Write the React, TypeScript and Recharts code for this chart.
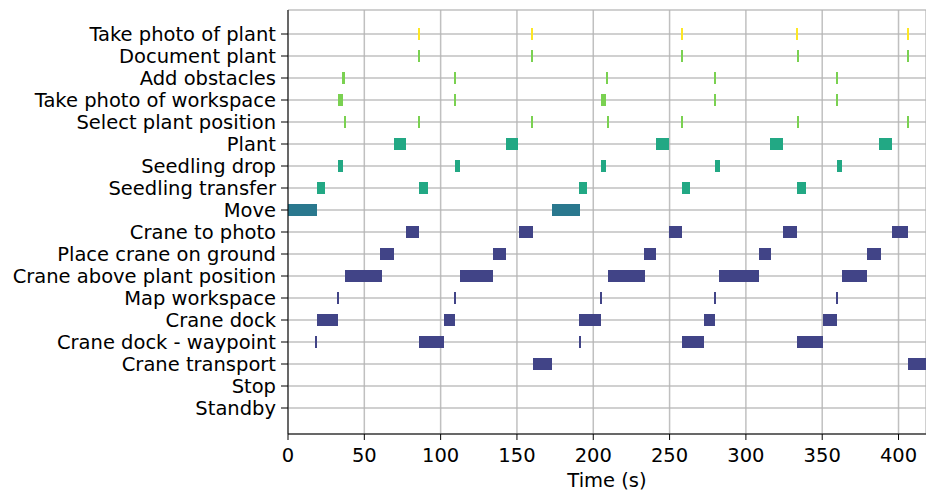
import { BarChart, Bar, XAxis, YAxis, CartesianGrid, Cell } from 'recharts';

const categories = [
  'Take photo of plant',
  'Document plant',
  'Add obstacles',
  'Take photo of workspace',
  'Select plant position',
  'Plant',
  'Seedling drop',
  'Seedling transfer',
  'Move',
  'Crane to photo',
  'Place crane on ground',
  'Crane above plant position',
  'Map workspace',
  'Crane dock',
  'Crane dock - waypoint',
  'Crane transport',
  'Stop',
  'Standby',
];

// [start, end] in seconds, one list per row
const takePhotoOfPlant = [[85.4, 86.3], [159.4, 160.3], [257.6, 258.5], [333.0, 333.9], [405.7, 406.6]];
const documentPlant = [[85.4, 86.3], [159.4, 160.3], [257.6, 258.5], [333.6, 334.5], [405.7, 406.6]];
const addObstacles = [[35.1, 37.1], [108.9, 109.8], [208.1, 209.5], [279.3, 280.2], [359.2, 360.1]];
const takePhotoOfWorkspace = [[32.5, 35.8], [108.9, 109.8], [204.8, 208.1], [279.3, 280.2], [359.2, 360.1]];
const selectPlantPosition = [[36.9, 37.8], [85.4, 86.3], [159.4, 160.3], [209.2, 210.1], [257.6, 258.5], [333.6, 334.5], [405.7, 406.6]];
const plant = [[69.2, 77.6], [142.5, 151.0], [241.4, 249.9], [316.1, 324.6], [387.5, 396.0]];
const seedlingDrop = [[32.5, 35.8], [109.1, 112.4], [204.8, 208.1], [279.5, 282.8], [359.4, 362.7]];
const seedlingTransfer = [[18.7, 24.0], [86.1, 91.4], [190.8, 196.1], [258.3, 263.5], [333.8, 339.1]];
const move = [[0, 18.7], [172.7, 191.5]];
const craneToPhoto = [[77.0, 86.1], [151.1, 160.3], [249.3, 258.4], [324.0, 333.8], [395.6, 406.1]];
const placeCraneOnGround = [[60.6, 69.2], [134.0, 143.1], [233.0, 241.4], [308.8, 316.5], [379.3, 388.3]];
const craneAbovePlantPosition = [[37.1, 61.3], [112.4, 134.0], [209.4, 233.6], [282.7, 308.8], [362.7, 379.1]];
const mapWorkspace = [[32.3, 33.2], [108.9, 109.8], [204.6, 205.5], [279.3, 280.2], [359.2, 360.1]];
const craneDock = [[18.7, 32.5], [101.9, 109.7], [190.8, 204.8], [272.3, 280.0], [350.8, 359.9]];
const craneDockWaypoint = [[17.9, 18.8], [86.1, 101.9], [190.8, 191.7], [258.4, 272.3], [333.8, 350.8]];
const craneTransport = [[160.3, 173.2], [406.1, 418]];
const stop: number[][] = [];
const standby: number[][] = [];

const segments = [
  takePhotoOfPlant, documentPlant, addObstacles, takePhotoOfWorkspace, selectPlantPosition,
  plant, seedlingDrop, seedlingTransfer, move, craneToPhoto, placeCraneOnGround,
  craneAbovePlantPosition, mapWorkspace, craneDock, craneDockWaypoint, craneTransport, stop, standby,
];

const rowColors = [
  '#fde725', '#7ad151', '#7ad151', '#7ad151', '#7ad151',
  '#22a884', '#22a884', '#22a884', '#2a788e', '#414487', '#414487',
  '#414487', '#414487', '#414487', '#414487', '#414487', '#414487', '#414487',
];

const xTicks = [0, 50, 100, 150, 200, 250, 300, 350, 400];

const maxSegs = Math.max(...segments.map((s) => s.length));
const segKeys = Array.from({ length: maxSegs }, (_, k) => `s${k}`);

const data = categories.map((name, i) => {
  const row: Record<string, any> = { name };
  segments[i].forEach((seg, k) => {
    row[`s${k}`] = seg;
  });
  return row;
});

const font = { fontFamily: 'DejaVu Sans', fontSize: 19.5, fill: '#000' };

export default function App() {
  return (
    <div style={{ position: 'absolute', left: 0, top: 0, background: '#fff' }}>
      <BarChart
        width={926}
        height={496}
        data={data}
        layout="vertical"
        barGap={-12}
        margin={{ top: 10, right: 0, bottom: 0, left: 0 }}
      >
        <XAxis
          type="number"
          domain={[0, 418]}
          ticks={xTicks}
          allowDataOverflow
          height={62}
          tick={font}
          tickSize={6}
          tickMargin={8}
          stroke="#000"
          tickLine={{ stroke: '#000' }}
          label={{ value: 'Time (s)', position: 'insideBottom', offset: 9, style: font }}
        />
        <XAxis
          xAxisId="top"
          orientation="top"
          type="number"
          domain={[0, 418]}
          height={0}
          tick={false}
          tickLine={false}
          stroke="#000"
        />
        <YAxis
          type="category"
          dataKey="name"
          width={288}
          padding={{ top: 13, bottom: 15 }}
          tick={font}
          tickSize={7}
          tickMargin={5}
          stroke="#000"
          tickLine={{ stroke: '#000' }}
          interval={0}
        />
        {segKeys.map((key) => (
          <Bar key={key} dataKey={key} barSize={12} shapeRendering="crispEdges" isAnimationActive={false}>
            {data.map((_, i) => (
              <Cell key={`c-${i}`} fill={rowColors[i]} />
            ))}
          </Bar>
        ))}
        <CartesianGrid stroke="#b5b5b5" strokeWidth={1.5} strokeOpacity={0.85} />
      </BarChart>
    </div>
  );
}
